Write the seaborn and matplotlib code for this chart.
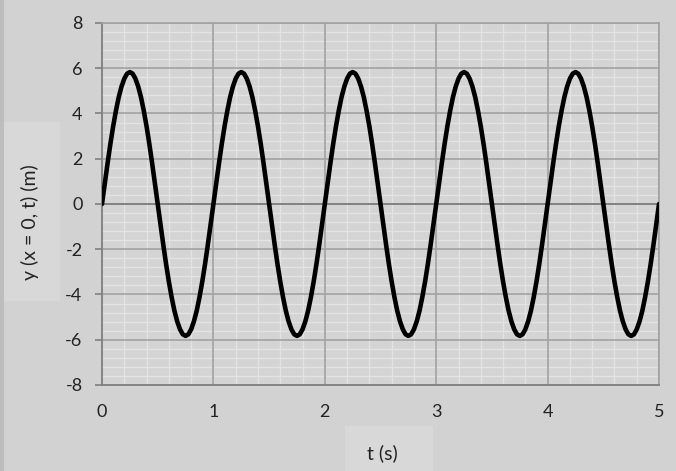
import matplotlib.pyplot as plt
import pandas as pd
import seaborn as sns
from matplotlib.ticker import MultipleLocator
from matplotlib.patches import Rectangle

# time samples (s), every 0.025 s, one row per half period
t_values = [
    0.000, 0.025, 0.050, 0.075, 0.100, 0.125, 0.150, 0.175, 0.200, 0.225,
    0.250, 0.275, 0.300, 0.325, 0.350, 0.375, 0.400, 0.425, 0.450, 0.475,
    0.500, 0.525, 0.550, 0.575, 0.600, 0.625, 0.650, 0.675, 0.700, 0.725,
    0.750, 0.775, 0.800, 0.825, 0.850, 0.875, 0.900, 0.925, 0.950, 0.975,
    1.000, 1.025, 1.050, 1.075, 1.100, 1.125, 1.150, 1.175, 1.200, 1.225,
    1.250, 1.275, 1.300, 1.325, 1.350, 1.375, 1.400, 1.425, 1.450, 1.475,
    1.500, 1.525, 1.550, 1.575, 1.600, 1.625, 1.650, 1.675, 1.700, 1.725,
    1.750, 1.775, 1.800, 1.825, 1.850, 1.875, 1.900, 1.925, 1.950, 1.975,
    2.000, 2.025, 2.050, 2.075, 2.100, 2.125, 2.150, 2.175, 2.200, 2.225,
    2.250, 2.275, 2.300, 2.325, 2.350, 2.375, 2.400, 2.425, 2.450, 2.475,
    2.500, 2.525, 2.550, 2.575, 2.600, 2.625, 2.650, 2.675, 2.700, 2.725,
    2.750, 2.775, 2.800, 2.825, 2.850, 2.875, 2.900, 2.925, 2.950, 2.975,
    3.000, 3.025, 3.050, 3.075, 3.100, 3.125, 3.150, 3.175, 3.200, 3.225,
    3.250, 3.275, 3.300, 3.325, 3.350, 3.375, 3.400, 3.425, 3.450, 3.475,
    3.500, 3.525, 3.550, 3.575, 3.600, 3.625, 3.650, 3.675, 3.700, 3.725,
    3.750, 3.775, 3.800, 3.825, 3.850, 3.875, 3.900, 3.925, 3.950, 3.975,
    4.000, 4.025, 4.050, 4.075, 4.100, 4.125, 4.150, 4.175, 4.200, 4.225,
    4.250, 4.275, 4.300, 4.325, 4.350, 4.375, 4.400, 4.425, 4.450, 4.475,
    4.500, 4.525, 4.550, 4.575, 4.600, 4.625, 4.650, 4.675, 4.700, 4.725,
    4.750, 4.775, 4.800, 4.825, 4.850, 4.875, 4.900, 4.925, 4.950, 4.975,
    5.000,
]

# displacement y(x=0, t) in m
y_values = [
    0.00, 0.91, 1.80, 2.65, 3.43, 4.12, 4.72, 5.19, 5.54, 5.76,
    5.83, 5.76, 5.54, 5.19, 4.72, 4.12, 3.43, 2.65, 1.80, 0.91,
    0.00, -0.91, -1.80, -2.65, -3.43, -4.12, -4.72, -5.19, -5.54, -5.76,
    -5.83, -5.76, -5.54, -5.19, -4.72, -4.12, -3.43, -2.65, -1.80, -0.91,
    0.00, 0.91, 1.80, 2.65, 3.43, 4.12, 4.72, 5.19, 5.54, 5.76,
    5.83, 5.76, 5.54, 5.19, 4.72, 4.12, 3.43, 2.65, 1.80, 0.91,
    0.00, -0.91, -1.80, -2.65, -3.43, -4.12, -4.72, -5.19, -5.54, -5.76,
    -5.83, -5.76, -5.54, -5.19, -4.72, -4.12, -3.43, -2.65, -1.80, -0.91,
    0.00, 0.91, 1.80, 2.65, 3.43, 4.12, 4.72, 5.19, 5.54, 5.76,
    5.83, 5.76, 5.54, 5.19, 4.72, 4.12, 3.43, 2.65, 1.80, 0.91,
    0.00, -0.91, -1.80, -2.65, -3.43, -4.12, -4.72, -5.19, -5.54, -5.76,
    -5.83, -5.76, -5.54, -5.19, -4.72, -4.12, -3.43, -2.65, -1.80, -0.91,
    0.00, 0.91, 1.80, 2.65, 3.43, 4.12, 4.72, 5.19, 5.54, 5.76,
    5.83, 5.76, 5.54, 5.19, 4.72, 4.12, 3.43, 2.65, 1.80, 0.91,
    0.00, -0.91, -1.80, -2.65, -3.43, -4.12, -4.72, -5.19, -5.54, -5.76,
    -5.83, -5.76, -5.54, -5.19, -4.72, -4.12, -3.43, -2.65, -1.80, -0.91,
    0.00, 0.91, 1.80, 2.65, 3.43, 4.12, 4.72, 5.19, 5.54, 5.76,
    5.83, 5.76, 5.54, 5.19, 4.72, 4.12, 3.43, 2.65, 1.80, 0.91,
    0.00, -0.91, -1.80, -2.65, -3.43, -4.12, -4.72, -5.19, -5.54, -5.76,
    -5.83, -5.76, -5.54, -5.19, -4.72, -4.12, -3.43, -2.65, -1.80, -0.91,
    0.00,
]

x_ticks = [0, 1, 2, 3, 4, 5]
y_ticks = [-8, -6, -4, -2, 0, 2, 4, 6, 8]

df = pd.DataFrame({'t': t_values, 'y': y_values})

sns.set_style('white')
plt.rcParams['font.family'] = ['Lato', 'DejaVu Sans']
plt.rcParams['axes.unicode_minus'] = False

fig = plt.figure(figsize=(6.76, 4.71), dpi=100, facecolor='#d2d2d2')
ax = fig.add_axes([0.1509, 0.1826, 0.8240, 0.7686])
ax.set_facecolor('#d4d4d4')

# lighter boxes behind the axis titles and a darker left edge
fig.patches.append(Rectangle((0.006, 0.36), 0.083, 0.38, transform=fig.transFigure,
                             facecolor='#d8d8d8', edgecolor='none', zorder=0))
fig.patches.append(Rectangle((0.51, 0.0), 0.13, 0.095, transform=fig.transFigure,
                             facecolor='#d8d8d8', edgecolor='none', zorder=0))
fig.patches.append(Rectangle((0.0, 0.0), 0.006, 1.0, transform=fig.transFigure,
                             facecolor='#bdbdbd', edgecolor='none', zorder=0))

sns.lineplot(data=df, x='t', y='y', ax=ax, color='black', linewidth=3.3,
             sort=False, estimator=None, zorder=5)

ax.set_xlim(0, 5)
ax.set_ylim(-8, 8)
ax.set_xticks(x_ticks)
ax.set_yticks(y_ticks)
ax.xaxis.set_minor_locator(MultipleLocator(0.2))
ax.yaxis.set_minor_locator(MultipleLocator(0.4))

# minor grid below, major grid drawn on top of it
ax.set_axisbelow(True)
ax.grid(which='minor', color='#e3e3e3', linewidth=1.0)
ax.grid(which='major', visible=False)
for v in x_ticks:
    ax.axvline(v, color='#a2a2a2', linewidth=1.2, zorder=2)
for v in y_ticks:
    ax.axhline(v, color='#a2a2a2', linewidth=1.2, zorder=2)
ax.axhline(0, color='#7f7f7f', linewidth=1.3, zorder=3)

for side in ['top', 'right']:
    ax.spines[side].set_color('#a2a2a2')
    ax.spines[side].set_linewidth(1.2)
for side in ['left', 'bottom']:
    ax.spines[side].set_color('#808080')
    ax.spines[side].set_linewidth(1.3)

ax.tick_params(axis='y', which='major', direction='out', length=5, width=1.2,
               color='#808080', pad=9, labelsize=13, labelcolor='#222222', left=True)
ax.tick_params(axis='x', which='major', length=0, pad=14, labelsize=13,
               labelcolor='#222222')
ax.tick_params(which='minor', length=0)

ax.set_xlabel('')
ax.set_ylabel('')
fig.text(0.0444, 0.528, 'y (x = 0, t) (m)', rotation=90, ha='center', va='center',
         fontsize=14, color='#222222')
fig.text(0.565, 0.038, 't (s)', ha='center', va='center', fontsize=14, color='#222222')

plt.savefig('out.png', dpi=100, facecolor=fig.get_facecolor())
